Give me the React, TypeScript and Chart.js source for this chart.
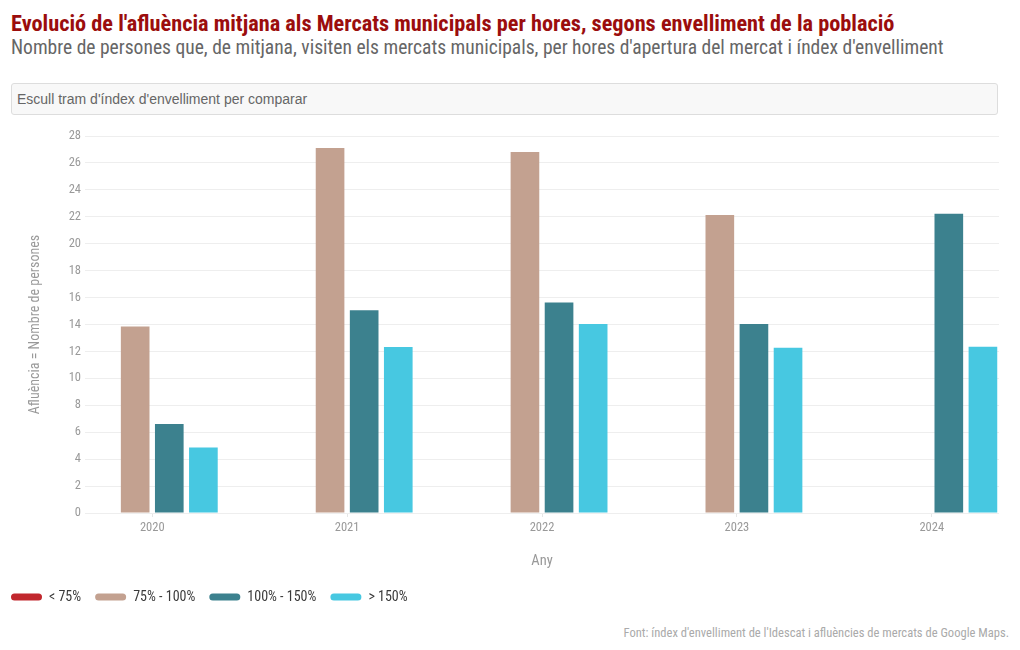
import React, { useEffect, useRef } from "react";
import { Chart, registerables } from "chart.js";

Chart.register(...registerables);

// ---- data ----
const YEARS = [2020, 2021, 2022, 2023, 2024];
const SERIES_NAMES = ["< 75%", "75% - 100%", "100% - 150%", "> 150%"];
const LT_75: (number | null)[] = [null, null, null, null, null];
const P75_100: (number | null)[] = [13.86, 27.1, 26.82, 22.13, null];
const P100_150: (number | null)[] = [6.61, 15.06, 15.64, 14.04, 22.22];
const GT_150: (number | null)[] = [4.87, 12.33, 14.03, 12.27, 12.35];
const Y_MIN = 0;
const Y_MAX = 28;
const Y_STEP = 2;
const X_PAD = 0.345;

const TITLE = "Evolució de l'afluència mitjana als Mercats municipals per hores, segons envelliment de la població";
const SUBTITLE = "Nombre de persones que, de mitjana, visiten els mercats municipals, per hores d'apertura del mercat i índex d'envelliment";
const FILTER_TEXT = "Escull tram d'índex d'envelliment per comparar";
const Y_TITLE = "Afluència = Nombre de persones";
const X_TITLE = "Any";
const SOURCE = "Font: índex d'envelliment de l'Idescat i afluències de mercats de Google Maps.";

const COLORS = ["#c1272d", "#c3a190", "#3c818e", "#47c8e1"];
const COND = "'Roboto Condensed', 'Liberation Sans Narrow', 'DejaVu Sans Condensed', Roboto, sans-serif";

function BarChart() {
  const ref = useRef<HTMLCanvasElement | null>(null);
  useEffect(() => {
    if (!ref.current) return;
    const seriesData = [LT_75, P75_100, P100_150, GT_150];
    const chart = new Chart(ref.current, {
      type: "bar",
      data: {
        labels: YEARS,
        datasets: SERIES_NAMES.map((name, i) => ({
          label: name,
          data: seriesData[i],
          backgroundColor: COLORS[i],
          borderWidth: 0,
          categoryPercentage: 0.7,
          barPercentage: 0.84,
        })),
      },
      options: {
        animation: false,
        responsive: false,
        layout: { padding: { top: 16, right: 11, left: 0, bottom: 0 } },
        plugins: {
          legend: {
            position: "bottom",
            align: "start",
            labels: {
              boxWidth: 31,
              boxHeight: 7,
              useBorderRadius: true,
              borderRadius: 3.5,
              padding: 14,
              color: "#3a3a3a",
              font: { family: COND, size: 14 },
            },
          },
          tooltip: { enabled: false },
        },
        scales: {
          x: {
            type: "linear",
            offset: false,
            bounds: "data",
            min: YEARS[0] - X_PAD,
            max: YEARS[YEARS.length - 1] + X_PAD,
            grid: { display: true, offset: false, drawOnChartArea: false, drawTicks: true, tickLength: 4, color: "#e6e6e6" },
            border: { display: false },
            ticks: {
              stepSize: 1,
              padding: 3,
              autoSkip: false,
              maxRotation: 0,
              color: "#999",
              font: { family: COND, size: 12.5 },
              callback: (v: any) => String(v),
            },
            afterBuildTicks: (s: any) => {
              s.ticks = YEARS.map((y) => ({ value: y }));
            },
            afterFit: (s: any) => {
              s.height = 63;
            },
            title: {
              display: true,
              text: X_TITLE,
              color: "#999",
              font: { family: COND, size: 14.5 },
              padding: { top: 4, bottom: 6.3 },
            },
          },
          y: {
            min: Y_MIN,
            max: Y_MAX,
            ticks: { stepSize: Y_STEP, padding: 4, color: "#999", font: { family: COND, size: 12.5 } },
            grid: { color: "#eeeeee", drawTicks: false },
            border: { display: false },
            afterFit: (s: any) => {
              s.width = 88;
            },
            title: {
              display: true,
              text: Y_TITLE,
              color: "#999",
              font: { family: COND, size: 14 },
              padding: { top: 29.6, bottom: 0 },
            },
          },
        },
      } as any,
    });
    return () => chart.destroy();
  }, []);
  return (
    <canvas
      ref={ref}
      width={1013}
      height={494}
      style={{ position: "absolute", left: -3, top: 120, width: 1013, height: 494 }}
    />
  );
}

export default function App() {
  return (
    <div style={{ position: "absolute", left: 0, top: 0, width: 1020, height: 650, overflow: "hidden", background: "#fff" }}>
      <div
        style={{
          position: "absolute",
          left: 11,
          top: 11.8,
          fontFamily: COND,
          fontWeight: 700,
          fontSize: 22.3,
          lineHeight: "22px",
          color: "#9b0d0d",
          whiteSpace: "nowrap",
        }}
      >
        {TITLE}
      </div>
      <div
        style={{
          position: "absolute",
          left: 11,
          top: 37.5,
          fontFamily: COND,
          fontSize: 19.55,
          lineHeight: "19.5px",
          color: "#666",
          whiteSpace: "nowrap",
        }}
      >
        {SUBTITLE}
      </div>
      <div
        style={{
          position: "absolute",
          left: 11,
          top: 83,
          width: 987,
          height: 32,
          boxSizing: "border-box",
          border: "1px solid #dddddd",
          borderRadius: 3,
          background: "#f8f8f8",
          fontFamily: "'Liberation Sans', Arial, sans-serif",
          fontSize: 14,
          lineHeight: "30px",
          color: "#666",
          paddingLeft: 5,
          whiteSpace: "nowrap",
        }}
      >
        {FILTER_TEXT}
      </div>
      <BarChart />
      <div
        style={{
          position: "absolute",
          right: 11,
          top: 625,
          fontFamily: COND,
          fontSize: 12.55,
          lineHeight: "16px",
          color: "#aaa",
          whiteSpace: "nowrap",
        }}
      >
        {SOURCE}
      </div>
    </div>
  );
}
